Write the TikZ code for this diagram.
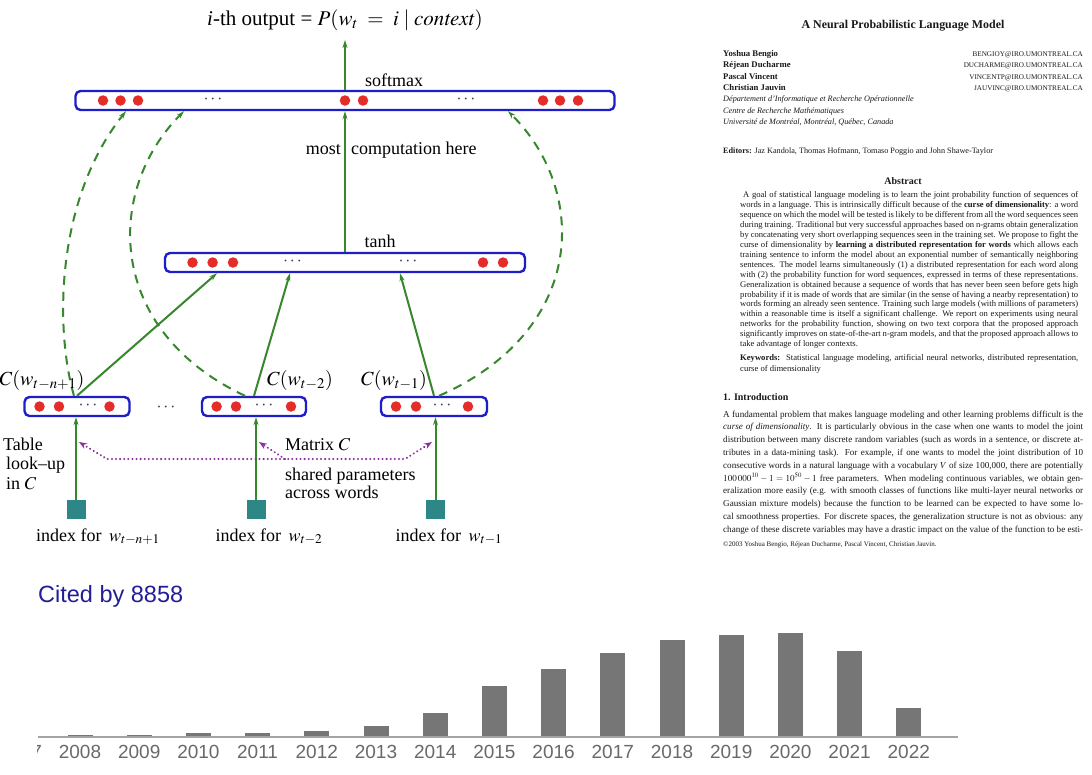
\documentclass[tikz,border=0pt]{standalone}
\usepackage{mathptmx}
\usepackage{fontspec}
\setmainfont{Liberation Serif}
\setsansfont{Liberation Sans}
\usetikzlibrary{arrows.meta}
\definecolor{nblue}{RGB}{30,30,200}
\definecolor{nred}{RGB}{228,45,40}
\definecolor{ngreen}{RGB}{55,135,45}
\definecolor{nteal}{RGB}{45,135,135}
\definecolor{npurple}{RGB}{140,45,160}
\definecolor{ntext}{RGB}{25,25,25}
\definecolor{barg}{RGB}{118,118,118}
\definecolor{axisg}{RGB}{165,165,165}
\definecolor{yearg}{RGB}{105,105,105}
\definecolor{citeb}{RGB}{35,30,150}
\newcommand{\lblfont}{\fontsize{18}{20}\selectfont}
\newcommand{\absfont}{\fontsize{8.6}{10}\selectfont}
\newcommand{\intfont}{\fontsize{9.1}{12}\selectfont}
\newcommand{\absline}[1]{\absfont\makebox[338pt][s]{#1}}
\newcommand{\intline}[1]{\intfont\makebox[360pt][s]{#1}}
\begin{document}
\begin{tikzpicture}[x=1pt,y=-1pt,
  nbar/.style={draw=nblue, line width=2.4pt, rounded corners=5pt, fill=white, minimum height=19pt, inner sep=0pt},
  ndot/.style={circle, fill=nred, inner sep=0pt, minimum size=10.5pt},
  nsq/.style={fill=nteal, minimum size=19pt, inner sep=0pt},
  garrow/.style={draw=ngreen, line width=2pt, -{Stealth[length=8pt,width=5pt]}},
  gdash/.style={garrow, dash pattern=on 9pt off 7pt},
  pdot/.style={draw=npurple, line width=2.2pt, line cap=round, dash pattern=on 0.1pt off 4pt},
  lbl/.style={font=\lblfont, inner sep=0pt, anchor=base},
  mlbl/.style={font=\fontsize{20}{22}\selectfont, inner sep=0pt, anchor=base},
  ell/.style={inner sep=0pt, font=\fontsize{18}{18}\selectfont, text=black!75},
  ptxt/.style={inner sep=0pt, anchor=base west, text=ntext},
  yrlbl/.style={inner sep=0pt, text=yearg, font=\sffamily\fontsize{19}{22}\selectfont}]
\useasboundingbox (0,0) rectangle (1092,774);
\fill[white] (0,0) rectangle (1092,774);

% ---------------- network diagram ----------------
\coordinate (outtip) at (345,40);
\coordinate (m1) at (79,442);
\coordinate (m2) at (259,442);
\coordinate (m3) at (432,442);
\coordinate (h1) at (107,459);
\coordinate (h2) at (405,459);
\coordinate (hm) at (285,459);

\node[nbar, minimum width=539pt] (soft) at (345,100.5) {};
\node[nbar, minimum width=360pt] (tanh) at (345,262.5) {};
\node[nbar, minimum width=105pt] (b1) at (77,406.5) {};
\node[nbar, minimum width=104pt] (b2) at (254,406.5) {};
\node[nbar, minimum width=106pt] (b3) at (434,406.5) {};

\node[nsq] (q1) at (76,509.5) {};
\node[nsq] (q2) at (256,509.5) {};
\node[nsq] (q3) at (435.5,509.5) {};

\foreach \x [count=\i] in {103,120.5,138,345,363,543,560,578}
  \node[ndot] (sd\i) at (\x,100.5) {};
\foreach \x [count=\i] in {192.5,212.6,233,483,503}
  \node[ndot] (td\i) at (\x,262.5) {};
\foreach \x [count=\i] in {39.5,59,109.5,216.6,236,291,396,416,468}
  \node[ndot] (bd\i) at (\x,406.5) {};
\node[ell] (se1) at (213,100) {$\cdots$};
\node[ell] (se2) at (466,100) {$\cdots$};
\node[ell] (te1) at (292.5,262) {$\cdots$};
\node[ell] (te2) at (408,262) {$\cdots$};
\node[ell] (be1) at (88,406) {$\cdots$};
\node[ell] (be2) at (264,406) {$\cdots$};
\node[ell] (be3) at (442,406) {$\cdots$};
\node[ell] (be4) at (166,408) {$\cdots$};

\draw[garrow] (soft.north) -- (outtip);
\draw[garrow] (tanh.north) -- (tanh.north |- soft.south);
\draw[garrow] (b1.north) -- ([xshift=-128pt]tanh.south);
\draw[garrow] (b2.north) -- ([xshift=-55pt]tanh.south);
\draw[garrow] (b3.north) -- ([xshift=55pt]tanh.south);
\draw[garrow] (q1.north) -- (q1.north |- b1.south);
\draw[garrow] (q2.north) -- (q2.north |- b2.south);
\draw[garrow] (q3.north) -- (q3.north |- b3.south);

\draw[gdash] ([xshift=-3pt]b1.north) .. controls (55,330) and (55,200) .. ([xshift=-219pt]soft.south);
\draw[gdash] ([xshift=-9pt]b2.north) .. controls (105,330) and (105,190) .. ([xshift=-161pt]soft.south);
\draw[gdash] ([xshift=5pt]b3.north) .. controls (588,330) and (588,190) .. ([xshift=163pt]soft.south);

\draw[pdot, {Stealth[length=8pt,width=6pt]}-{Stealth[length=8pt,width=6pt]}] (m1) -- (h1) -- (h2) -- (m3);
\draw[pdot, -{Stealth[length=8pt,width=6pt]}] (hm) -- (m2);

\node[lbl] (ttl) at (345,25) {\fontsize{21}{24}\selectfont\textit{i}-th output = $P(w_t\;=\;i\;|\;\mathit{context})$};
\node[lbl] (lsm) at (394,86) {softmax};
\node[lbl, anchor=base east] (lmost) at (341,154) {most};
\node[lbl, anchor=base west] (lcomp) at (351,154) {computation here};
\node[lbl] (ltanh) at (380,247) {tanh};
\node[mlbl] (lc1) at (42,385) {$C(w_{t-n+1})$};
\node[mlbl] (lc2) at (300,385) {$C(w_{t-2})$};
\node[mlbl] (lc3) at (394,385) {$C(w_{t-1})$};
\node[lbl, anchor=base west] (lt1) at (3,450) {Table};
\node[lbl, anchor=base west] (lt2) at (6,469) {look--up};
\node[lbl, anchor=base west] (lt3) at (6,489) {in $C$};
\node[lbl, anchor=base west] (lmat) at (285,450) {Matrix $C$};
\node[lbl, anchor=base west] (lsh1) at (285,480) {shared parameters};
\node[lbl, anchor=base west] (lsh2) at (285,498) {across words};
\node[lbl] (li1) at (98,541) {index for\ \,$w_{t-n+1}$};
\node[lbl] (li2) at (269,541) {index for\ \,$w_{t-2}$};
\node[lbl] (li3) at (449,541) {index for\ \,$w_{t-1}$};

% ---------------- paper page ----------------
\node[anchor=base, inner sep=0pt, text=ntext] (ptitle) at (903,28) {\fontsize{11.9}{14}\selectfont\bfseries A Neural Probabilistic Language Model};
\node[ptxt] (au1) at (723,56.3) {\fontsize{8.7}{10}\selectfont\bfseries Yoshua Bengio};
\node[ptxt] (au2) at (723,67.7) {\fontsize{8.7}{10}\selectfont\bfseries Réjean Ducharme};
\node[ptxt] (au3) at (723,79) {\fontsize{8.7}{10}\selectfont\bfseries Pascal Vincent};
\node[ptxt] (au4) at (723,90.3) {\fontsize{8.7}{10}\selectfont\bfseries Christian Jauvin};
\node[inner sep=0pt, anchor=base east, text=ntext] (em1) at (1083,56.3) {\fontsize{7.2}{8}\selectfont BENGIOY@IRO.UMONTREAL.CA};
\node[inner sep=0pt, anchor=base east, text=ntext] (em2) at (1083,67.7) {\fontsize{7.2}{8}\selectfont DUCHARME@IRO.UMONTREAL.CA};
\node[inner sep=0pt, anchor=base east, text=ntext] (em3) at (1083,79) {\fontsize{7.2}{8}\selectfont VINCENTP@IRO.UMONTREAL.CA};
\node[inner sep=0pt, anchor=base east, text=ntext] (em4) at (1083,90.3) {\fontsize{7.2}{8}\selectfont JAUVINC@IRO.UMONTREAL.CA};
\node[ptxt] (af1) at (723,101.6) {\fontsize{8.2}{10}\selectfont\itshape Département d'Informatique et Recherche Opérationnelle};
\node[ptxt] (af2) at (723,113) {\fontsize{8.2}{10}\selectfont\itshape Centre de Recherche Mathématiques};
\node[ptxt] (af3) at (723,124.4) {\fontsize{8.2}{10}\selectfont\itshape Université de Montréal, Montréal, Québec, Canada};
\node[ptxt] (edt) at (723,153) {\fontsize{8.2}{10}\selectfont\textbf{Editors:} Jaz Kandola, Thomas Hofmann, Tomaso Poggio and John Shawe-Taylor};
\node[anchor=base, inner sep=0pt, text=ntext] (absh) at (903,184) {\fontsize{10}{12}\selectfont\bfseries Abstract};

\node[ptxt] (ab1) at (743,197.5) {\absfont\makebox[335pt][s]{A goal of statistical language modeling is to learn the joint probability function of sequences of}};
\node[ptxt] (ab2) at (740,207.45) {\absline{words in a language. This is intrinsically difficult because of the \textbf{curse of dimensionality}: a word}};
\node[ptxt] (ab3) at (740,217.4) {\absline{sequence on which the model will be tested is likely to be different from all the word sequences seen}};
\node[ptxt] (ab4) at (740,227.35) {\absline{during training. Traditional but very successful approaches based on n-grams obtain generalization}};
\node[ptxt] (ab5) at (740,237.3) {\absline{by concatenating very short overlapping sequences seen in the training set. We propose to fight the}};
\node[ptxt] (ab6) at (740,247.25) {\absline{curse of dimensionality by \textbf{learning a distributed representation for words} which allows each}};
\node[ptxt] (ab7) at (740,257.2) {\absline{training sentence to inform the model about an exponential number of semantically neighboring}};
\node[ptxt] (ab8) at (740,267.15) {\absline{sentences. The model learns simultaneously (1) a distributed representation for each word along}};
\node[ptxt] (ab9) at (740,277.1) {\absline{with (2) the probability function for word sequences, expressed in terms of these representations.}};
\node[ptxt] (ab10) at (740,287.05) {\absline{Generalization is obtained because a sequence of words that has never been seen before gets high}};
\node[ptxt] (ab11) at (740,297) {\absline{probability if it is made of words that are similar (in the sense of having a nearby representation) to}};
\node[ptxt] (ab12) at (740,306.95) {\absline{words forming an already seen sentence. Training such large models (with millions of parameters)}};
\node[ptxt] (ab13) at (740,316.9) {\absline{within a reasonable time is itself a significant challenge. We report on experiments using neural}};
\node[ptxt] (ab14) at (740,326.85) {\absline{networks for the probability function, showing on two text corpora that the proposed approach}};
\node[ptxt] (ab15) at (740,336.8) {\absline{significantly improves on state-of-the-art n-gram models, and that the proposed approach allows to}};
\node[ptxt] (ab16) at (740,346.75) {\absfont take advantage of longer contexts.};
\node[ptxt] (kw1) at (740,360) {\absline{\textbf{Keywords:}\ \ Statistical language modeling, artificial neural networks, distributed representation,}};
\node[ptxt] (kw2) at (740,371) {\absfont curse of dimensionality};

\node[ptxt] (intro) at (723,400) {\fontsize{10}{12}\selectfont\bfseries 1. Introduction};
\node[ptxt] (in1) at (723,417) {\intline{A fundamental problem that makes language modeling and other learning problems difficult is the}};
\node[ptxt] (in2) at (723,429.8) {\intline{\textit{curse of dimensionality}. It is particularly obvious in the case when one wants to model the joint}};
\node[ptxt] (in3) at (723,442.6) {\intline{distribution between many discrete random variables (such as words in a sentence, or discrete at-}};
\node[ptxt] (in4) at (723,455.4) {\intline{tributes in a data-mining task). For example, if one wants to model the joint distribution of 10}};
\node[ptxt] (in5) at (723,468.2) {\intline{consecutive words in a natural language with a vocabulary $V$ of size 100,000, there are potentially}};
\node[ptxt] (in6) at (723,481) {\intline{$100\,000^{10}-1=10^{50}-1$ free parameters. When modeling continuous variables, we obtain gen-}};
\node[ptxt] (in7) at (723,493.8) {\intline{eralization more easily (e.g. with smooth classes of functions like multi-layer neural networks or}};
\node[ptxt] (in8) at (723,506.6) {\intline{Gaussian mixture models) because the function to be learned can be expected to have some lo-}};
\node[ptxt] (in9) at (723,519.4) {\intline{cal smoothness properties. For discrete spaces, the generalization structure is not as obvious: any}};
\node[ptxt] (in10) at (723,532.2) {\intline{change of these discrete variables may have a drastic impact on the value of the function to be esti-}};
\node[ptxt] (copy) at (723,546) {\fontsize{7}{8}\selectfont ©2003 Yoshua Bengio, Réjean Ducharme, Pascal Vincent, Christian Jauvin.};

% ---------------- citation chart ----------------
\node[anchor=base west, inner sep=0pt, text=citeb, font=\sffamily\fontsize{23.5}{26}\selectfont] (cited) at (38,602) {Cited by 8858};
\foreach \yr/\tp [count=\i from 0] in {2008/734.5,2009/735,2010/733,2011/733,2012/731,2013/726,2014/713,2015/685.5,2016/669,2017/653,2018/640,2019/635,2020/633,2021/651,2022/707.5} {
  \fill[barg] ({80+59.2*\i-12.5},\tp) rectangle ({80+59.2*\i+12.5},737);
  \node[yrlbl] (yr\yr) at ({80+59.2*\i},752) {\yr};
}
\begin{scope}
  \clip (37,740) rectangle (60,766);
  \node[yrlbl] (yr2007) at (20.8,752) {2007};
\end{scope}
\draw[axisg, line width=2pt] (38,737) -- (958,737);
\end{tikzpicture}
\end{document}
